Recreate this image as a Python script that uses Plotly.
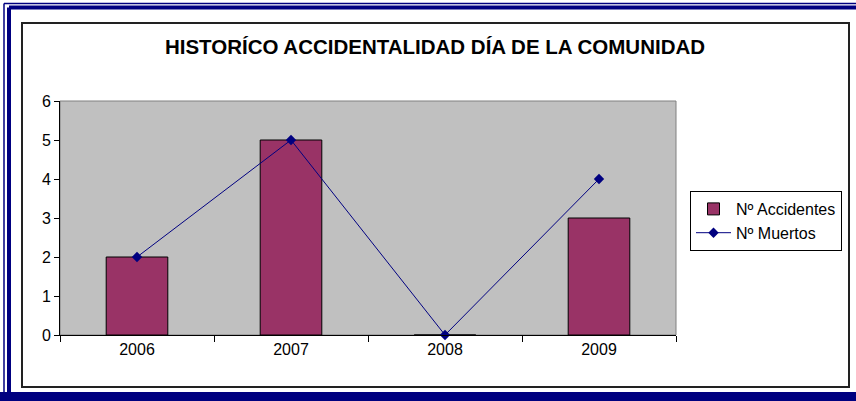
import plotly.graph_objects as go

years = ["2006", "2007", "2008", "2009"]
accidentes = [2, 5, 0, 3]
muertos = [2, 5, 0, 4]
title_text = "HISTORÍCO ACCIDENTALIDAD DÍA DE LA COMUNIDAD"

W, H = 856, 401
L, R, T, B = 60, 676, 101, 335

def px(x):
    return (x - L) / (R - L)

def py(y):
    return (B - y) / (B - T)

FONT = "Liberation Sans, Arial, sans-serif"

fig = go.Figure()
fig.add_trace(go.Bar(
    x=years, y=accidentes, name="Nº Accidentes",
    marker=dict(color="#993366", line=dict(color="#000000", width=1)),
    width=0.4,
))
fig.add_trace(go.Scatter(
    x=years, y=muertos, name="Nº Muertos", mode="lines+markers",
    line=dict(color="#000080", width=1),
    marker=dict(symbol="diamond", size=8, color="#000080"),
    cliponaxis=False,
))

shapes = []
# plot area border
shapes.append(dict(type="rect", xref="paper", yref="paper", x0=0, y0=0, x1=1, y1=1,
                   line=dict(color="#808080", width=1), layer="below"))
# inner black frame
shapes.append(dict(type="rect", xref="paper", yref="paper",
                   x0=px(22), y0=py(23), x1=px(849), y1=py(387),
                   line=dict(color="#222222", width=2)))
# navy outer frame: thin outer line
shapes.append(dict(type="line", xref="paper", yref="paper",
                   x0=px(4), y0=py(3.5), x1=px(900), y1=py(3.5),
                   line=dict(color="#000080", width=1.5)))
shapes.append(dict(type="line", xref="paper", yref="paper",
                   x0=px(4), y0=py(3.5), x1=px(4), y1=py(420),
                   line=dict(color="#000080", width=1.5)))
# thick band
shapes.append(dict(type="line", xref="paper", yref="paper",
                   x0=px(9), y0=py(7.5), x1=px(900), y1=py(7.5),
                   line=dict(color="#000080", width=4)))
shapes.append(dict(type="line", xref="paper", yref="paper",
                   x0=px(9), y0=py(7.5), x1=px(9), y1=py(420),
                   line=dict(color="#000080", width=4)))
# bottom band
shapes.append(dict(type="rect", xref="paper", yref="paper",
                   x0=px(0), y0=py(392), x1=px(900), y1=py(420),
                   line=dict(width=0), fillcolor="#000080"))

fig.update_layout(
    width=W, height=H,
    margin=dict(l=L, r=W - R, t=T, b=H - B, pad=0),
    paper_bgcolor="#FFFFFF",
    plot_bgcolor="#C0C0C0",
    font=dict(family=FONT, size=16, color="#000000"),
    title=dict(text="<b>" + title_text + "</b>", x=435 / W, xanchor="center",
               y=1 - 47 / H, yanchor="middle", xref="container", yref="container",
               font=dict(family=FONT, size=20.5, color="#000000")),
    xaxis=dict(type="category", showgrid=False, showline=True, linecolor="#000000",
               linewidth=1, ticks="outside", tickson="boundaries", ticklen=6,
               tickcolor="#000000", tickfont=dict(size=16)),
    yaxis=dict(range=[0, 6], dtick=1, showgrid=False, showline=True, linecolor="#000000",
               linewidth=1, ticks="outside", ticklen=5, tickcolor="#000000",
               zeroline=False, tickfont=dict(size=16)),
    legend=dict(x=px(690), y=py(191), xanchor="left", yanchor="top",
                bordercolor="#000000", borderwidth=1, bgcolor="#FFFFFF",
                font=dict(size=16), tracegroupgap=0, itemwidth=35),
    shapes=shapes,
    bargap=0.6,
)

fig.write_html("out.html", config={"displayModeBar": False},
               post_script="document.body.style.margin='0';document.body.style.overflow='hidden';")
